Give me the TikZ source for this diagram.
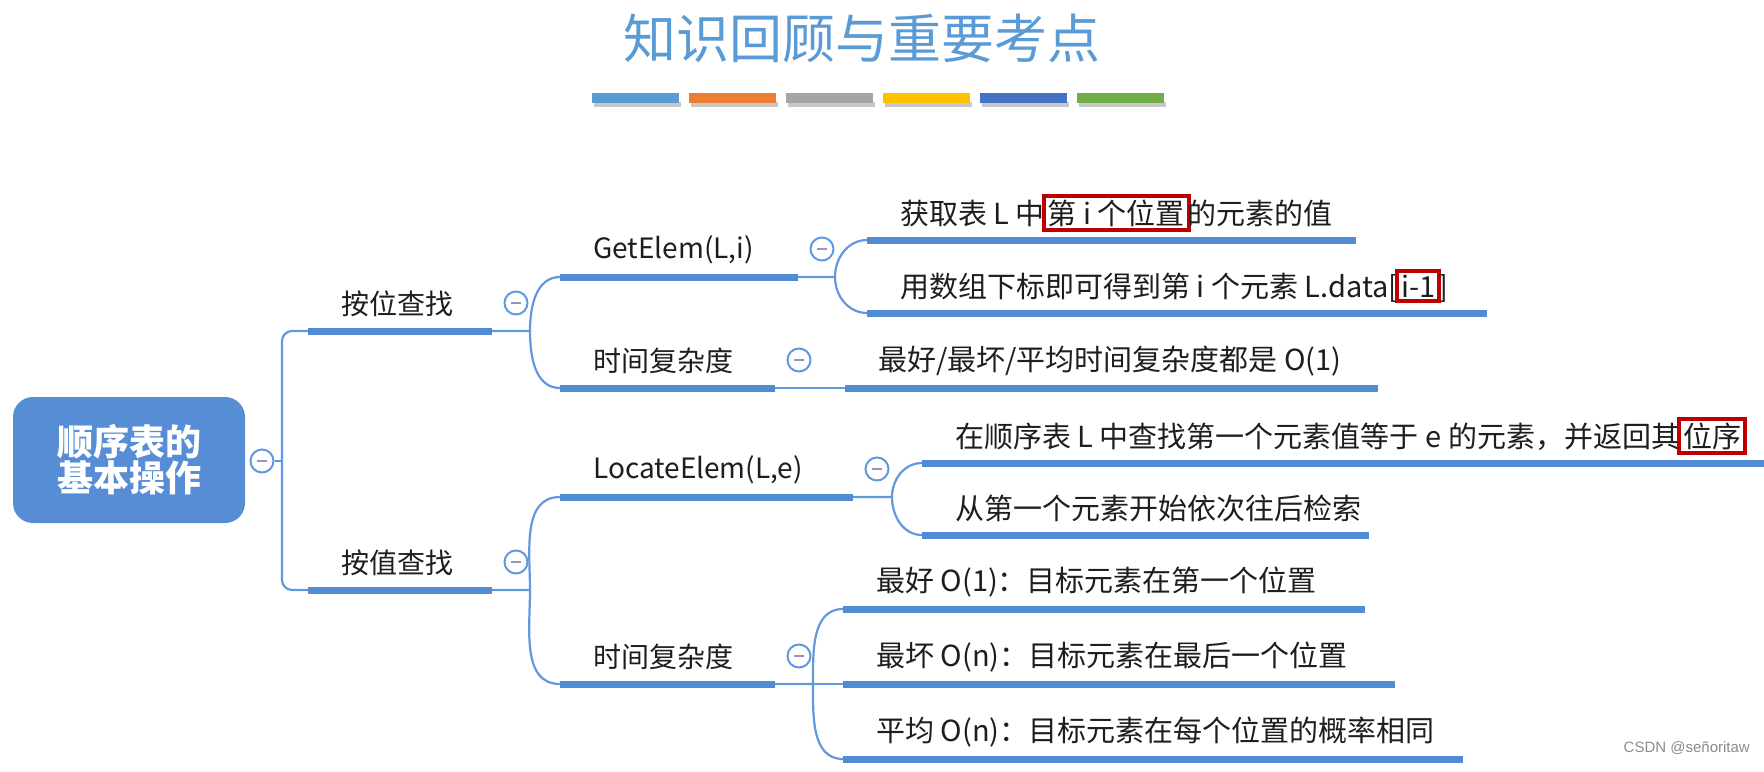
\documentclass[tikz,border=0pt]{standalone}
\usepackage{fontspec}
\setmainfont{Noto Sans CJK SC}
\newfontfamily\csdnfont{Liberation Sans}
\usetikzlibrary{calc}
\definecolor{barblue}{RGB}{80,139,212}
\definecolor{lineblue}{RGB}{98,152,222}
\definecolor{rootblue}{RGB}{86,141,213}
\definecolor{titleblue}{RGB}{91,155,213}
\definecolor{txtcol}{RGB}{30,30,30}
\definecolor{boxred}{RGB}{192,0,0}
\definecolor{dashcol}{RGB}{150,150,190}
\definecolor{cA}{RGB}{91,155,213}
\definecolor{cB}{RGB}{237,125,49}
\definecolor{cC}{RGB}{165,165,165}
\definecolor{cD}{RGB}{255,192,0}
\definecolor{cE}{RGB}{68,114,196}
\definecolor{cF}{RGB}{112,173,71}
\newcommand{\redbox}[1]{{\setlength{\fboxrule}{4pt}\setlength{\fboxsep}{2pt}\kern-3pt\fcolorbox{boxred}{white}{#1}\kern-3pt}}
\newcommand{\topic}[5]{%
  \coordinate (#1-s) at (#2,-#4);
  \coordinate (#1-e) at (#3,-#4);
  \draw[barline] (#1-s) -- (#1-e);
  \node[txt] (#1) at (#2+33,-#4+27) {#5};}
\newcommand{\leaf}[5]{%
  \coordinate (#1-s) at (#2,-#4);
  \coordinate (#1-e) at (#3,-#4);
  \draw[barline] (#1-s) -- (#1-e);
  \node[leaftxt] (#1) at (#2+33,-#4+27) {#5};}
\newcommand{\toggle}[1]{\node[tog] (#1-t) at ($(#1-e)+(24,28)$) {};}
\begin{document}
\begin{tikzpicture}[x=1pt,y=1pt,
  barline/.style={line width=7pt, barblue},
  conn/.style={line width=2.2pt, lineblue},
  txt/.style={anchor=west, inner sep=0pt, font=\fontsize{28}{30}\selectfont, text=txtcol},
  leaftxt/.style={txt, font=\fontsize{29}{31}\selectfont},
  tog/.style={circle, draw=lineblue, line width=2pt, fill=white, minimum size=23pt, inner sep=0pt,
    path picture={\draw[dashcol, line width=2pt] ([xshift=-5pt]path picture bounding box.center) -- ([xshift=5pt]path picture bounding box.center);}},
  rootbox/.style={rectangle, rounded corners=20pt, fill=rootblue, text=white, minimum width=232pt, minimum height=126pt, align=center, font=\bfseries\fontsize{36}{36}\selectfont}
]
\fill[white] (0,0) rectangle (1764,-771);
\useasboundingbox (0,0) rectangle (1764,-771);

% title
\node[font=\fontsize{53}{60}\selectfont, text=titleblue, inner sep=0pt] (title) at (862,-38) {知识回顾与重要考点};
\foreach \c [count=\i from 0] in {cA,cB,cC,cD,cE,cF}{
  \fill[black!22] (594+97*\i,-102) rectangle ++(87,-5);
  \fill[\c] (592+97*\i,-93) rectangle ++(87,-10);
}

% root
\node[rootbox] (root) at (129,-460) {顺序表的\\基本操作};
\node[tog] (root-t) at (262,-461) {};
\coordinate (j0) at (282,-461);

% topics
\topic{A}{308}{492}{331}{按位查找}
\topic{B}{308}{492}{590}{按值查找}
\topic{A1}{560}{798}{277}{GetElem(L,i)}
\topic{A2}{560}{775}{388}{时间复杂度}
\leaf{A11}{867}{1356}{240}{获取表 L 中\redbox{第 i 个位置}的元素的值}
\leaf{A12}{867}{1487}{313}{用数组下标即可得到第 i 个元素 L.data[\redbox{i-1}]}
\leaf{A21}{845}{1378}{388}{最好/最坏/平均时间复杂度都是 O(1)}
\topic{B1}{560}{853}{497}{LocateElem(L,e)}
\topic{B2}{560}{775}{684}{时间复杂度}
\leaf{B11}{922}{1764}{463}{在顺序表 L 中查找第一个元素值等于 e 的元素，并返回其\redbox{位序}}
\leaf{B12}{922}{1369}{535}{从第一个元素开始依次往后检索}
\leaf{B21}{843}{1365}{609}{最好 O(1)：目标元素在第一个位置}
\leaf{B22}{843}{1395}{684}{最坏 O(n)：目标元素在最后一个位置}
\leaf{B23}{843}{1463}{759}{平均 O(n)：目标元素在每个位置的概率相同}

% connectors
\draw[conn] (root-t.east) -- (j0);
\draw[conn, rounded corners=10pt] (j0) |- (A-s);
\draw[conn, rounded corners=10pt] (j0) |- (B-s);

\coordinate (jA) at ($(A-e)+(38,0)$);
\draw[conn] (A-e) -- (jA) to[out=90,in=180] (A1-s);
\draw[conn] (jA) to[out=-90,in=180] (A2-s);

\coordinate (jA1) at ($(A1-e)+(37,0)$);
\draw[conn] (A1-e) -- (jA1) to[out=90,in=180] (A11-s);
\draw[conn] (jA1) to[out=-90,in=180] (A12-s);

\draw[conn] (A2-e) -- (A21-s);

\coordinate (jB) at ($(B-e)+(38,0)$);
\draw[conn] (B-e) -- (jB) to[out=90,in=180] (B1-s);
\draw[conn] (jB) to[out=-90,in=180] (B2-s);

\coordinate (jB1) at ($(B1-e)+(39,0)$);
\draw[conn] (B1-e) -- (jB1) to[out=90,in=180] (B11-s);
\draw[conn] (jB1) to[out=-90,in=180] (B12-s);

\coordinate (jB2) at ($(B2-e)+(38,0)$);
\draw[conn] (B2-e) -- (jB2) to[out=90,in=180] (B21-s);
\draw[conn] (jB2) -- (B22-s);
\draw[conn] (jB2) to[out=-90,in=180] (B23-s);

% redraw bars over connector ends
\foreach \n in {A,B,A1,A2,A11,A12,A21,B1,B2,B11,B12,B21,B22,B23}{
  \draw[barline] (\n-s) -- (\n-e);
}

% toggles
\toggle{A}
\toggle{B}
\toggle{A1}
\toggle{A2}
\toggle{B1}
\toggle{B2}

\node[font=\csdnfont\fontsize{15}{16}\selectfont, text=black!45, anchor=east, inner sep=0pt] (csdn) at (1750,-748) {CSDN @señoritaw};
\end{tikzpicture}
\end{document}
